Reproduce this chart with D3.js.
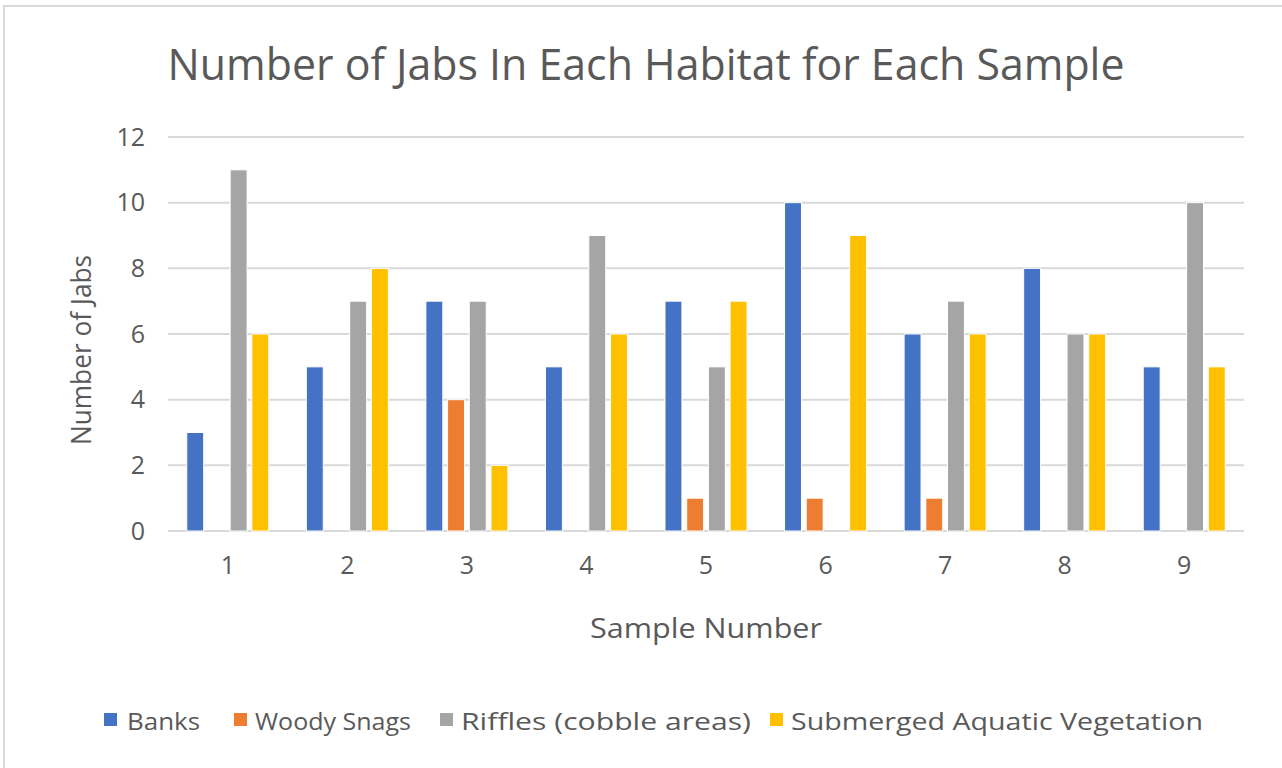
<!DOCTYPE html>
<html>
<head>
<meta charset="utf-8">
<script src="https://cdn.jsdelivr.net/npm/d3@7"></script>
<style>
  body { margin: 0; background: #fff; }
  text { font-family: "Open Sans", "Noto Sans", sans-serif; fill: #595959; }
</style>
</head>
<body>
<div id="chart"></div>
<script>
// chart data
var samples = ["1", "2", "3", "4", "5", "6", "7", "8", "9"];
var seriesNames = ["Banks", "Woody Snags", "Riffles (cobble areas)", "Submerged Aquatic Vegetation"];
var banks = [3, 5, 7, 5, 7, 10, 6, 8, 5];
var woodySnags = [0, 0, 4, 0, 1, 1, 1, 0, 0];
var riffles = [11, 7, 7, 9, 5, 0, 7, 6, 10];
var submerged = [6, 8, 2, 6, 7, 9, 6, 6, 5];
var yTicks = [0, 2, 4, 6, 8, 10, 12];

var colors = ["#4472C4", "#ED7D31", "#A5A5A5", "#FFC000"];
var allSeries = [banks, woodySnags, riffles, submerged];

var svgWidth = 1282;
var svgHeight = 768;
var margin = { top: 137, right: 38, bottom: 237, left: 168 };
var width = svgWidth - margin.left - margin.right;
var height = svgHeight - margin.top - margin.bottom;

var svg = d3.select("#chart")
  .append("svg")
  .attr("width", svgWidth)
  .attr("height", svgHeight);

// outer chart border
svg.append("rect")
  .attr("x", 4).attr("y", 6)
  .attr("width", 1290).attr("height", 800)
  .attr("fill", "#fff")
  .attr("stroke", "#D9D9D9")
  .attr("stroke-width", 2);

var chartGroup = svg.append("g")
  .attr("transform", `translate(${margin.left}, ${margin.top})`);

// scales
var x0 = d3.scaleBand().domain(samples).range([0, width]).padding(0);
var x1 = d3.scaleBand().domain(seriesNames).range([-41, 41]).paddingInner(0.22).paddingOuter(0);
var yScale = d3.scaleLinear().domain([0, 12]).range([height, 0]);

// gridlines
chartGroup.selectAll("line.grid")
  .data(yTicks)
  .enter()
  .append("line")
  .attr("class", "grid")
  .attr("x1", 0).attr("x2", width)
  .attr("y1", d => yScale(d)).attr("y2", d => yScale(d))
  .attr("stroke", "#D9D9D9")
  .attr("stroke-width", 2);

// y tick labels
var leftAxis = d3.axisLeft(yScale).tickValues(yTicks).tickSize(0).tickPadding(23);
var yAxisG = chartGroup.append("g").call(leftAxis);
yAxisG.select(".domain").remove();
yAxisG.selectAll("text")
  .attr("font-size", 25)
  .attr("fill", "#595959")
  .style("font-family", "Open Sans");

// x tick labels
var bottomAxis = d3.axisBottom(x0).tickSize(0).tickPadding(25);
var xAxisG = chartGroup.append("g")
  .attr("transform", `translate(0, ${height})`)
  .call(bottomAxis);
xAxisG.select(".domain").remove();
xAxisG.selectAll("text")
  .attr("font-size", 25)
  .attr("fill", "#595959")
  .style("font-family", "Open Sans");

// bars
var groups = chartGroup.selectAll("g.sample")
  .data(samples)
  .enter()
  .append("g")
  .attr("class", "sample")
  .attr("transform", d => `translate(${x0(d) + x0.bandwidth() / 2}, 0)`);

groups.selectAll("rect")
  .data((d, i) => allSeries.map((s, k) => ({ name: seriesNames[k], value: s[i], color: colors[k] })))
  .enter()
  .append("rect")
  .filter(d => d.value > 0)
  .attr("x", d => x1(d.name))
  .attr("width", x1.bandwidth())
  .attr("y", d => yScale(d.value))
  .attr("height", d => height - yScale(d.value))
  .attr("fill", d => d.color)
  .attr("stroke", "#fff")
  .attr("stroke-width", 1);

// title
svg.append("text")
  .attr("x", 646).attr("y", 80)
  .attr("text-anchor", "middle")
  .attr("font-size", 44)
  .attr("textLength", 957)
  .attr("lengthAdjust", "spacingAndGlyphs")
  .text("Number of Jabs In Each Habitat for Each Sample");

// axis titles
svg.append("text")
  .attr("x", 706).attr("y", 638)
  .attr("text-anchor", "middle")
  .attr("font-size", 27)
  .attr("textLength", 232)
  .attr("lengthAdjust", "spacingAndGlyphs")
  .text("Sample Number");

svg.append("text")
  .attr("transform", "translate(91, 350) rotate(-90)")
  .attr("text-anchor", "middle")
  .attr("font-size", 27)
  .attr("textLength", 190)
  .attr("lengthAdjust", "spacingAndGlyphs")
  .text("Number of Jabs");

// legend
var legendX = [104, 234, 440, 770];
var legendW = [73, 156, 290, 412];
var legend = svg.selectAll("g.legend")
  .data(seriesNames)
  .enter()
  .append("g")
  .attr("class", "legend")
  .attr("transform", (d, i) => `translate(${legendX[i]}, 713)`);

legend.append("rect")
  .attr("width", 13).attr("height", 13)
  .attr("fill", (d, i) => colors[i]);

legend.append("text")
  .attr("x", (d, i) => i === 0 ? 23 : 21)
  .attr("y", 17)
  .attr("font-size", 24)
  .attr("textLength", (d, i) => legendW[i])
  .attr("lengthAdjust", "spacingAndGlyphs")
  .text(d => d);
</script>
</body>
</html>
